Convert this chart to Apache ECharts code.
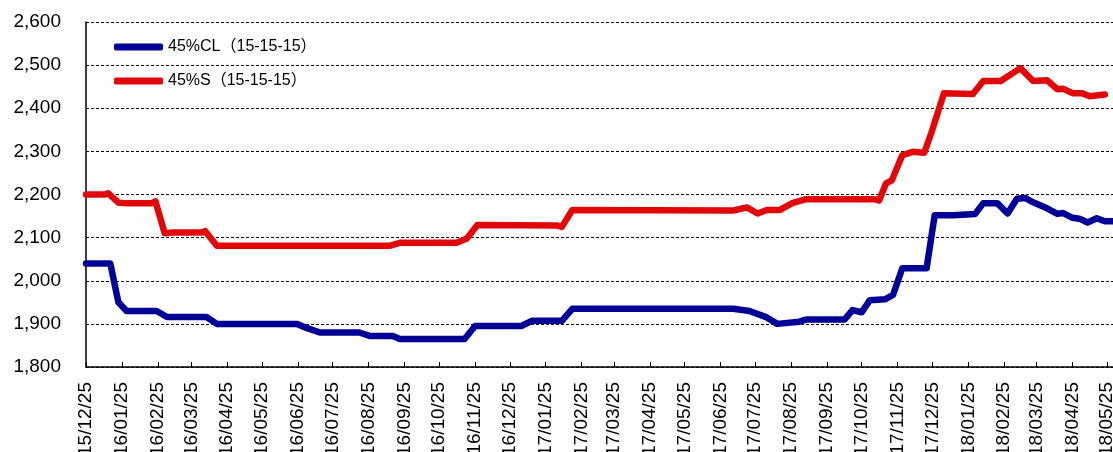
<!DOCTYPE html>
<html>
<head>
<meta charset="utf-8">
<script src="https://cdn.jsdelivr.net/npm/echarts@6.0.0/dist/echarts.min.js"></script>
<style>
  html, body { margin: 0; padding: 0; background: #ffffff; }
  #chart { width: 1113px; height: 452px; }
</style>
</head>
<body>
<div id="chart"></div>
<script>
// x-axis tick labels (yy/mm/dd), one per month
const tickLabels = [
  "15/12/25", "16/01/25", "16/02/25", "16/03/25", "16/04/25", "16/05/25", "16/06/25",
  "16/07/25", "16/08/25", "16/09/25", "16/10/25", "16/11/25", "16/12/25", "17/01/25",
  "17/02/25", "17/03/25", "17/04/25", "17/05/25", "17/06/25", "17/07/25", "17/08/25",
  "17/09/25", "17/10/25", "17/11/25", "17/12/25", "18/01/25", "18/02/25", "18/03/25",
  "18/04/25", "18/05/25",
];

const clName = "45%CL（15-15-15）";
const clDates = [
  "2015-12-25", "2016-01-15", "2016-01-22", "2016-01-29", "2016-02-24", "2016-03-04",
  "2016-04-07", "2016-04-16", "2016-06-24", "2016-07-03", "2016-07-14", "2016-08-17",
  "2016-08-26", "2016-09-15", "2016-09-21", "2016-11-16", "2016-11-25", "2017-01-04",
  "2017-01-13", "2017-02-08", "2017-02-17", "2017-07-06", "2017-07-20", "2017-08-04",
  "2017-08-13", "2017-09-01", "2017-09-07", "2017-10-10", "2017-10-17", "2017-10-25",
  "2017-11-01", "2017-11-14", "2017-11-21", "2017-11-29", "2017-12-20", "2017-12-27",
  "2018-01-12", "2018-01-31", "2018-02-07", "2018-02-19", "2018-02-28", "2018-03-08",
  "2018-03-15", "2018-03-22", "2018-04-03", "2018-04-12", "2018-04-17", "2018-04-25",
  "2018-05-01", "2018-05-08", "2018-05-16", "2018-05-23", "2018-05-30",
];
const clValues = [
  2040, 2040, 1950, 1930, 1930, 1916,
  1916, 1900, 1900, 1890, 1880, 1880,
  1872, 1872, 1865, 1865, 1895, 1895,
  1907, 1907, 1935, 1935, 1930, 1915,
  1900, 1905, 1910, 1910, 1932, 1927,
  1955, 1957, 1967, 2029, 2029, 2152,
  2152, 2155, 2180, 2180, 2156, 2190,
  2192, 2182, 2168, 2155, 2157, 2146,
  2144, 2135, 2145, 2138, 2138,
];

const sName = "45%S（15-15-15）";
const sDates = [
  "2015-12-25", "2016-01-10", "2016-01-13", "2016-01-22", "2016-01-28", "2016-02-20",
  "2016-02-23", "2016-03-02", "2016-03-09", "2016-04-03", "2016-04-06", "2016-04-16",
  "2016-09-12", "2016-09-21", "2016-11-09", "2016-11-18", "2016-11-27", "2017-02-04",
  "2017-02-08", "2017-02-17", "2017-07-06", "2017-07-18", "2017-07-27", "2017-08-04",
  "2017-08-15", "2017-08-26", "2017-09-07", "2017-11-05", "2017-11-09", "2017-11-15",
  "2017-11-20", "2017-11-29", "2017-12-08", "2017-12-18", "2017-12-24", "2018-01-04",
  "2018-01-29", "2018-02-07", "2018-02-22", "2018-03-11", "2018-03-22", "2018-04-03",
  "2018-04-12", "2018-04-17", "2018-04-25", "2018-05-03", "2018-05-10", "2018-05-23",
];
const sValues = [
  2200, 2200, 2203, 2181, 2180, 2180,
  2184, 2110, 2112, 2112, 2115, 2081,
  2081, 2088, 2088, 2098, 2129, 2128,
  2125, 2164, 2163, 2170, 2156, 2164,
  2164, 2180, 2189, 2189, 2186, 2226,
  2233, 2291, 2299, 2297, 2342, 2435,
  2433, 2463, 2463, 2493, 2463, 2465,
  2444, 2445, 2435, 2435, 2428, 2432,
];

const FONT = "'Liberation Sans', Arial, 'Noto Sans CJK SC', sans-serif";

function labelTime(label) {
  const [yy, mm, dd] = label.split("/").map(Number);
  return Date.UTC(2000 + yy, mm - 1, dd);
}

function dateTime(text) {
  const [y, m, d] = text.split("-").map(Number);
  return Date.UTC(y, m - 1, d);
}

function pad(n) {
  return n < 10 ? "0" + n : "" + n;
}

function formatTick(value) {
  const d = new Date(value);
  return `${pad(d.getUTCFullYear() % 100)}/${pad(d.getUTCMonth() + 1)}/${pad(d.getUTCDate())}`;
}

function pairs(dates, values) {
  return dates.map((d, i) => [dateTime(d), values[i]]);
}

function lineSeries(name, color, data) {
  return {
    name,
    type: "line",
    symbol: "none",
    smooth: false,
    data,
    lineStyle: { color, width: 6.5, join: "round", cap: "round" },
    itemStyle: { color },
  };
}

const tickTimes = tickLabels.map(labelTime);
const chart = echarts.init(document.getElementById("chart"));

chart.setOption({
  animation: false,
  backgroundColor: "#ffffff",
  textStyle: { fontFamily: FONT },
  legend: {
    orient: "vertical",
    left: 109,
    top: 34,
    icon: "roundRect",
    itemWidth: 49,
    itemHeight: 7,
    itemGap: 18,
    textStyle: { color: "#000000", fontSize: 16, fontFamily: FONT },
    data: [clName, sName],
  },
  grid: { left: 86, right: 0, top: 22, bottom: 85, containLabel: false, outerBoundsMode: "none" },
  xAxis: {
    type: "value",
    min: labelTime("15/12/25"),
    max: dateTime("2018-05-30"),
    axisLine: { lineStyle: { color: "#000000", width: 1.5 } },
    axisTick: { inside: true, length: 5, lineStyle: { color: "#000000" }, customValues: tickTimes },
    axisLabel: {
      customValues: tickTimes,
      rotate: 90,
      margin: 15,
      color: "#000000",
      fontSize: 19,
      fontFamily: FONT,
      formatter: formatTick,
    },
    splitLine: { show: false },
  },
  yAxis: {
    type: "value",
    min: 1800,
    max: 2600,
    interval: 100,
    axisLine: { show: true, lineStyle: { color: "#000000", width: 1.5 } },
    axisTick: { show: false },
    axisLabel: {
      margin: 25,
      color: "#000000",
      fontSize: 19,
      fontFamily: FONT,
      formatter: (v) => v.toLocaleString("en-US"),
    },
    splitLine: { lineStyle: { color: "#000000", type: [3, 2], width: 1 } },
  },
  series: [
    lineSeries(clName, "#000096", pairs(clDates, clValues)),
    lineSeries(sName, "#e00808", pairs(sDates, sValues)),
  ],
});
</script>
</body>
</html>
